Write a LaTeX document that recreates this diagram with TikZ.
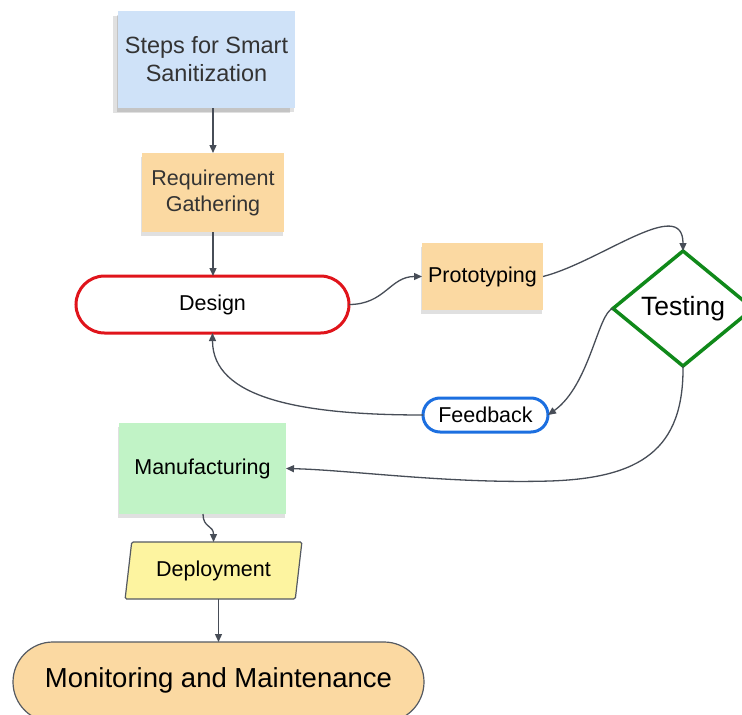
\documentclass[tikz,border=0pt]{standalone}
\usepackage{fontspec}
\setmainfont{Liberation Sans}
\usetikzlibrary{arrows.meta,shapes.geometric,shapes.misc,shadows}
\definecolor{bluenote}{HTML}{CFE2F8}
\definecolor{orangenote}{HTML}{FBD9A2}
\definecolor{greennote}{HTML}{C1F3C6}
\definecolor{yellownote}{HTML}{FDF4A0}
\definecolor{redline}{HTML}{E0141B}
\definecolor{greenline}{HTML}{10891A}
\definecolor{blueline}{HTML}{1C6FE0}
\definecolor{notetext}{HTML}{333333}
\definecolor{conn}{HTML}{474D57}
\definecolor{edge}{HTML}{555A62}
\tikzset{
  every node/.style={inner sep=0pt, outer sep=0pt, align=center},
  note/.style={rectangle, text=notetext,
    drop shadow={shadow xshift=-1pt, shadow yshift=-4pt, opacity=0.12, fill=black}},
  arr/.style={draw=conn, line width=1.3pt, -{Triangle[length=8pt,width=7pt]}}
}
\begin{document}
\begin{tikzpicture}[x=1pt,y=-1pt]
\useasboundingbox (0,0) rectangle (742,715);
\clip (0,0) rectangle (742,715);
\fill[white] (0,0) rectangle (742,715);

\node[note, fill=bluenote, minimum width=177pt, minimum height=97pt,
  drop shadow={shadow xshift=-5pt, shadow yshift=-5pt, opacity=0.12, fill=black},
  font=\fontsize{23.5}{28}\selectfont] (steps) at (206.5,59.5) {Steps for Smart\\Sanitization};
\node[note, fill=orangenote, minimum width=142pt, minimum height=79pt,
  font=\fontsize{21.5}{26}\selectfont] (req) at (213,192.5) {Requirement\\Gathering};
\node[rounded rectangle, draw=redline, line width=3pt, fill=white,
  minimum width=273pt, minimum height=57pt, font=\fontsize{21.5}{25}\selectfont] (design) at (212.5,304.5) {Design};
\node[note, fill=orangenote, minimum width=121pt, minimum height=67pt,
  text=black, font=\fontsize{21.5}{25}\selectfont] (proto) at (482.5,276.5) {Prototyping};
\node[diamond, draw=greenline, line width=3.5pt, fill=white, shape aspect=1.2,
  minimum width=140pt, minimum height=115pt, font=\fontsize{26.5}{30}\selectfont] (test) at (683,308.5) {Testing};
\node[rounded rectangle, draw=blueline, line width=3pt, fill=white,
  minimum width=125pt, minimum height=34pt, font=\fontsize{21.5}{25}\selectfont] (feed) at (485.5,415) {Feedback};
\node[note, fill=greennote, minimum width=167pt, minimum height=91pt,
  text=black, font=\fontsize{21.5}{25}\selectfont] (man) at (202.5,468.5) {Manufacturing};
\node[trapezium, trapezium left angle=77, trapezium right angle=103, trapezium stretches=true,
  draw=edge, line width=1.2pt, fill=yellownote, rounded corners=1.5pt,
  minimum width=177pt, minimum height=57pt, font=\fontsize{21.5}{25}\selectfont] (dep) at (213.5,570.5) {Deployment};
\node[rounded rectangle, draw=edge, line width=1.2pt, fill=orangenote,
  minimum width=411pt, minimum height=80pt, font=\fontsize{27.5}{32}\selectfont] (mon) at (218.5,682) {\raisebox{8pt}{Monitoring and Maintenance}};

\draw[arr] (steps.south -| req.north) -- (req.north);
\draw[arr] (req.south) -- (design.north -| req.south);
\draw[arr] (design.east) .. controls +(36,0) and +(-32,0) .. (proto.west);
\draw[arr] (proto.east) .. controls (600,262) and (683,195) .. (test.north);
\draw[arr] (test.west) .. controls (598,312) and (590,385) .. (feed.east);
\draw[arr] (feed.west) .. controls +(-123,0) and +(0,65) .. (design.south);
\draw[arr] (test.south) .. controls +(1,84) and (640,478) .. (550,481)
  .. controls (450,484) and (350,470) .. (man.east);
\draw[arr] (man.south) ++(0.5,0) coordinate (ms) (ms) .. controls +(0,14) and +(0,-17) .. (dep.north);
\draw[arr] (mon.north |- dep.south) -- (mon.north);
\end{tikzpicture}
\end{document}
